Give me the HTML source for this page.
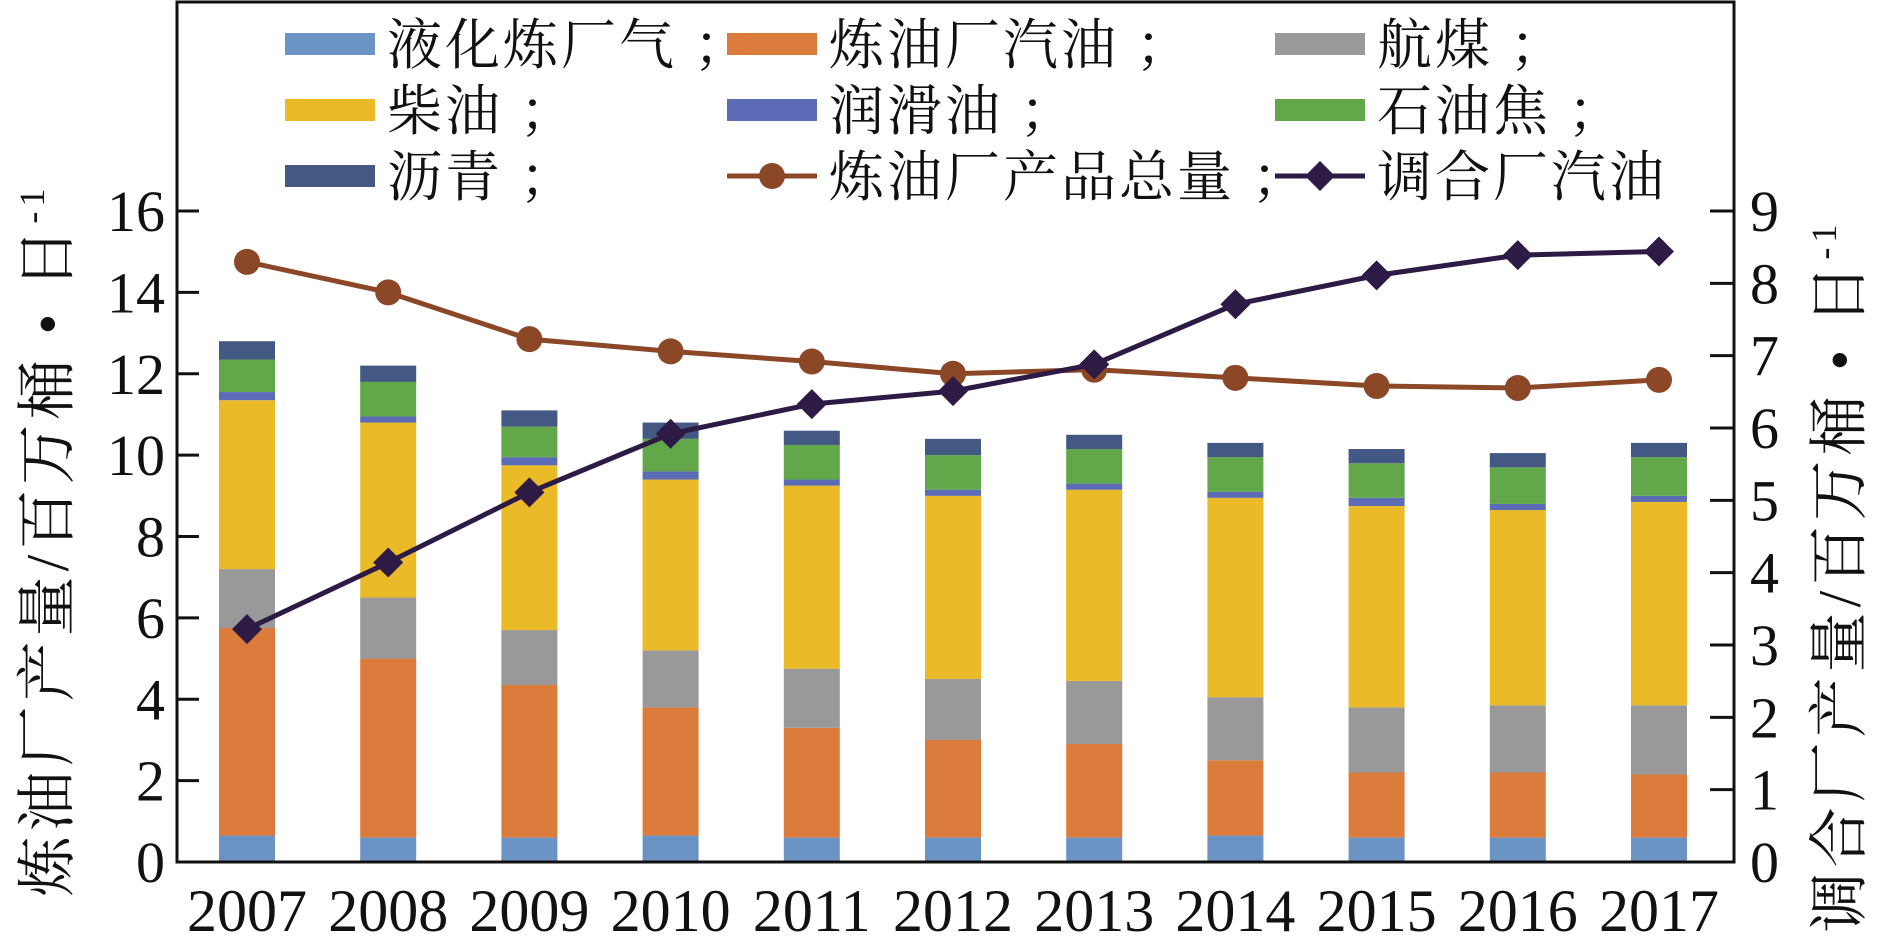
<!DOCTYPE html>
<html><head><meta charset="utf-8"><style>
html,body{margin:0;padding:0;background:#fff;}
svg{display:block;}
text{font-family:"Liberation Serif","Noto Serif CJK SC","Noto Sans CJK SC",serif;fill:#111;}
</style></head><body>
<svg id="chart" width="1880" height="951" viewBox="0 0 1880 951" xmlns="http://www.w3.org/2000/svg">
<g id="bars"></g>
<g id="lines"></g>
<g id="axes"></g>
<g id="legend"></g>
</svg>
<script>
const years = ["2007","2008","2009","2010","2011","2012","2013","2014","2015","2016","2017"];
const lpg      = [0.65,0.6,0.6,0.65,0.6,0.6,0.6,0.65,0.6,0.6,0.6];
const gasoline = [5.1,4.4,3.75,3.15,2.7,2.4,2.3,1.85,1.6,1.6,1.55];
const jet      = [1.45,1.5,1.35,1.4,1.45,1.5,1.55,1.55,1.6,1.65,1.7];
const diesel   = [4.15,4.3,4.05,4.2,4.5,4.5,4.7,4.9,4.95,4.8,5.0];
const lube     = [0.2,0.15,0.2,0.2,0.15,0.15,0.15,0.15,0.2,0.15,0.15];
const coke     = [0.8,0.85,0.75,0.8,0.85,0.85,0.85,0.85,0.85,0.9,0.95];
const asphalt  = [0.45,0.4,0.4,0.4,0.35,0.4,0.35,0.35,0.35,0.35,0.35];
const refineryTotal = [14.75,14.0,12.85,12.55,12.3,12.0,12.1,11.9,11.7,11.65,11.85];
const blendGasoline = [3.22,4.14,5.11,5.92,6.33,6.51,6.88,7.71,8.11,8.39,8.44];
const leftTicks = [0,2,4,6,8,10,12,14,16];
const rightTicks = [0,1,2,3,4,5,6,7,8,9];

const NS="http://www.w3.org/2000/svg";
const X0=177,X1=1734,Y0=862,YTOP=2;
const yL=v=>Y0-v*(Y0-211)/16;
const yR=v=>Y0-v*(Y0-211)/9;
const xC=i=>247+i*141.2;
const BW=56;
function mk(tag,attrs,parent){const e=document.createElementNS(NS,tag);for(const k in attrs)e.setAttribute(k,attrs[k]);parent.appendChild(e);return e;}
const series=[["lpg",lpg,"#6B93C4"],["gasoline",gasoline,"#DC7C3C"],["jet-fuel",jet,"#999999"],["diesel",diesel,"#EBBA28"],["lube-oil",lube,"#5B6BB5"],["petroleum-coke",coke,"#62A74A"],["asphalt",asphalt,"#445884"]];
const gb=document.getElementById('bars');
years.forEach((y,i)=>{let base=0;series.forEach(([n,arr,c])=>{const v=arr[i];
 const r=mk('rect',{x:xC(i)-BW/2,y:yL(base+v),width:BW,height:yL(base)-yL(base+v),fill:c},gb);
 
 
 base+=v;});});
const gl=document.getElementById('lines');
const p1=mk('polyline',{points:refineryTotal.map((v,i)=>xC(i)+','+yL(v)).join(' '),fill:'none',stroke:'#8B4726','stroke-width':5},gl);


refineryTotal.forEach((v,i)=>{const c=mk('circle',{cx:xC(i),cy:yL(v),r:13,fill:'#8B4726'},gl);
 
 });
const p2=mk('polyline',{points:blendGasoline.map((v,i)=>xC(i)+','+yR(v)).join(' '),fill:'none',stroke:'#2D1A45','stroke-width':5},gl);


blendGasoline.forEach((v,i)=>{const x=xC(i),y=yR(v),s=15;const d=mk('polygon',{points:`${x},${y-s} ${x+s},${y} ${x},${y+s} ${x-s},${y}`,fill:'#2D1A45'},gl);
 
 });
const ga=document.getElementById('axes');
const fr=mk('rect',{x:X0,y:YTOP,width:X1-X0,height:Y0-YTOP,fill:'none',stroke:'#111','stroke-width':3},ga);


leftTicks.forEach(v=>{mk('line',{x1:X0,x2:X0+22,y1:yL(v),y2:yL(v),stroke:'#111','stroke-width':3},ga);
 const t=mk('text',{x:165,y:yL(v)+20,'text-anchor':'end','font-size':58},ga);t.textContent=v;
 
 });
rightTicks.forEach(v=>{mk('line',{x1:X1-24,x2:X1,y1:yR(v),y2:yR(v),stroke:'#111','stroke-width':3},ga);
 const t=mk('text',{x:1750,y:yR(v)+20,'text-anchor':'start','font-size':58},ga);t.textContent=v;
 
 });
years.forEach((y,i)=>{const t=mk('text',{x:xC(i),y:931,'text-anchor':'middle','font-size':60},ga);t.textContent=y;
 
 });
function ytitle(x,y,txt,name){const t=mk('text',{x:x,y:y,'text-anchor':'middle','font-size':60,'letter-spacing':5,transform:`rotate(-90 ${x} ${y})`},ga);
 t.innerHTML=txt+'<tspan font-size="36" dy="-24">-1</tspan>';
 
 }
ytitle(68,540,'炼油厂产量/百万桶 • 日','left-y-axis-title');
ytitle(1860,576,'调合厂产量/百万桶 • 日','right-y-axis-title');
const lg=document.getElementById('legend');
const legendItems=[["液化炼厂气 ；","rect","#6B93C4",0,0],["炼油厂汽油 ；","rect","#DC7C3C",1,0],["航煤 ；","rect","#999999",2,0],
["柴油 ；","rect","#EBBA28",0,1],["润滑油 ；","rect","#5B6BB5",1,1],["石油焦 ；","rect","#62A74A",2,1],
["沥青 ；","rect","#445884",0,2],["炼油厂产品总量 ；","circle","#8B4726",1,2],["调合厂汽油","diamond","#2D1A45",2,2]];
const colX=[285,727,1275],rowY=[44,110,176];
legendItems.forEach(([txt,kind,c,col,row])=>{const x=colX[col],y=rowY[row];
 const g=mk('g',{},lg);
 
 
 if(kind==='rect'){mk('rect',{x:x,y:y-11,width:90,height:22,fill:c},g);}
 else{mk('line',{x1:x,x2:x+90,y1:y,y2:y,stroke:c,'stroke-width':5},g);
  if(kind==='circle')mk('circle',{cx:x+45,cy:y,r:13,fill:c},g);
  else mk('polygon',{points:`${x+45},${y-15} ${x+60},${y} ${x+45},${y+15} ${x+30},${y}`,fill:c},g);}
 const t=mk('text',{x:x+102,y:y+20,'font-size':55,'letter-spacing':3},g);t.textContent=txt;});
</script>
</body></html>
